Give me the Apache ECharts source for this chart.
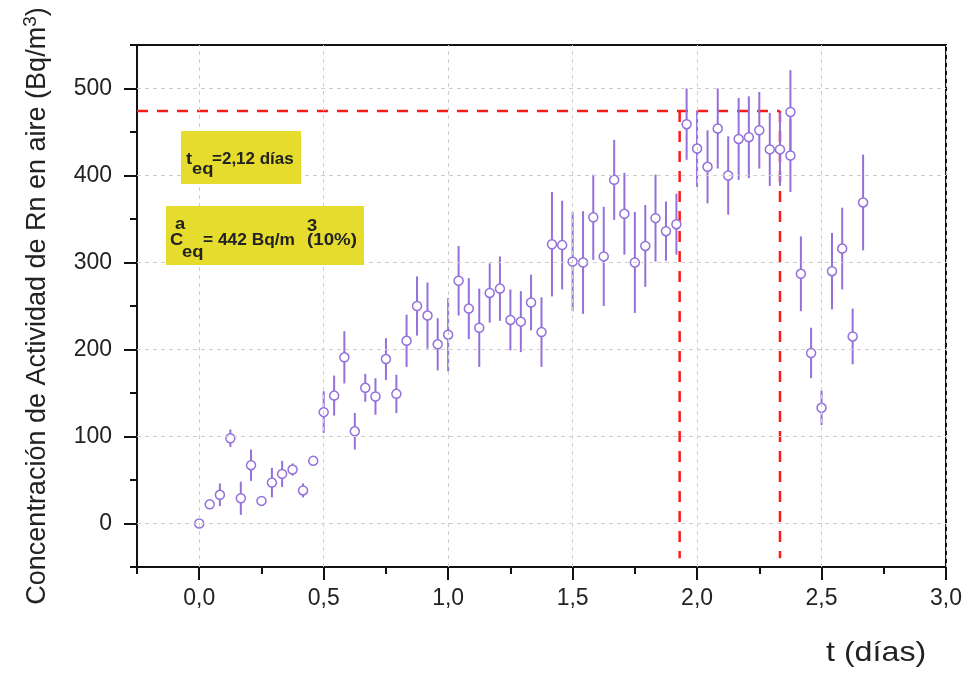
<!DOCTYPE html>
<html>
<head>
<meta charset="utf-8">
<script src="https://cdn.jsdelivr.net/npm/echarts@6/dist/echarts.min.js"></script>
<style>
  html, body { margin: 0; padding: 0; background: #ffffff; }
  #chart { width: 970px; height: 673px; }
</style>
</head>
<body>
<div id="chart"></div>
<script>
// Sampling times (days), one reading per hour; the 2,375 d reading was taken twice
const tDays = [
  0.000, 0.042, 0.083, 0.125, 0.167, 0.208, 0.250, 0.292, 0.333, 0.375, 0.417, 0.458,
  0.500, 0.542, 0.583, 0.625, 0.667, 0.708, 0.750, 0.792, 0.833, 0.875, 0.917, 0.958,
  1.000, 1.042, 1.083, 1.125, 1.167, 1.208, 1.250, 1.292, 1.333, 1.375, 1.417, 1.458,
  1.500, 1.542, 1.583, 1.625, 1.667, 1.708, 1.750, 1.792, 1.833, 1.875, 1.917, 1.958,
  2.000, 2.042, 2.083, 2.125, 2.167, 2.208, 2.250, 2.292, 2.333, 2.375, 2.375, 2.417,
  2.458, 2.500, 2.542, 2.583, 2.625, 2.667
];
// Rn activity concentration in air (Bq/m3)
const conc = [
  0, 22, 33, 98, 29, 67, 26, 47, 57, 62, 38, 72,
  128, 147, 191, 106, 156, 146, 189, 149, 210, 250, 239, 206,
  217, 279, 247, 225, 265, 270, 234, 232, 254, 220, 321, 320,
  301, 300, 352, 307, 395, 356, 300, 319, 351, 336, 344, 459,
  431, 410, 454, 400, 442, 444, 452, 430, 430, 473, 423, 287,
  196, 133, 290, 316, 215, 369
];
// Uncertainty of each reading (Bq/m3)
const concErr = [
  0, 5, 13, 10, 19, 18, 5, 17, 15, 7, 8, 5,
  24, 23, 30, 21, 16, 21, 24, 22, 30, 34, 38, 30,
  42, 40, 35, 45, 34, 37, 35, 35, 32, 40, 60, 51,
  57, 59, 49, 57, 46, 47, 58, 47, 50, 34, 35, 41,
  44, 42, 46, 45, 47, 47, 44, 42, 42, 48, 42, 43,
  29, 20, 44, 47, 32, 55
];

// Axis ticks
const xMajorTicks = [0, 0.5, 1, 1.5, 2, 2.5, 3];
const xMinorTicks = [-0.25, 0.25, 0.75, 1.25, 1.75, 2.25, 2.75];
const yMajorTicks = [0, 100, 200, 300, 400, 500];
const yMinorTicks = [-50, 50, 150, 250, 350, 450, 550];

// Equilibrium reading: plateau level and time window (days)
const eqLevel = 474;
const eqWindow = [1.93, 2.333];
const eqLineBottom = -40;

const FONT = 'Liberation Sans, Arial, sans-serif';
const PURPLE = '#9370db';
const AXIS = '#111111';

const points = tDays.map((t, i) => [t, conc[i]]);
const bars = tDays.map((t, i) => [t, conc[i] - concErr[i], conc[i] + concErr[i]]);

const gridLines = xMajorTicks.map(v => ({ xAxis: v })).concat(yMajorTicks.map(v => ({ yAxis: v })));

const dashedRed = { color: '#ff1a1a', width: 2.5, type: [11, 9] };

// annotation text helper
function label(text, x, y, size, weight, sx) {
  return {
    type: 'text', x: x, y: y, z: 11, scaleX: sx || 1.08,
    style: { text: text, font: (weight || 'bold') + ' ' + size + 'px ' + FONT, fill: '#222', verticalAlign: 'bottom' }
  };
}

const chart = echarts.init(document.getElementById('chart'), null, { renderer: 'canvas' });

chart.setOption({
  animation: false,
  backgroundColor: '#ffffff',
  grid: {
    left: 137, right: 24, top: 45, bottom: 106,
    show: true, borderColor: AXIS, borderWidth: 2, backgroundColor: 'transparent'
  },
  xAxis: [
    {
      type: 'value', min: -0.25, max: 3, position: 'bottom',
      axisLine: { show: true, onZero: false, lineStyle: { color: AXIS, width: 2 } },
      axisTick: { show: true, inside: false, length: 13, customValues: xMajorTicks, lineStyle: { color: AXIS, width: 2 } },
      axisLabel: {
        customValues: xMajorTicks, margin: 20, fontSize: 23, color: '#222', fontFamily: FONT,
        formatter: v => v.toFixed(1).replace('.', ',')
      },
      splitLine: { show: false }
    },
    {
      // placed on the bottom edge to carry the minor ticks
      type: 'value', min: -0.25, max: 3, position: 'top', offset: -522,
      axisLine: { show: false, onZero: false },
      axisTick: { show: true, inside: true, length: 7, customValues: xMinorTicks, lineStyle: { color: AXIS, width: 2 } },
      axisLabel: { show: false },
      splitLine: { show: false }
    }
  ],
  yAxis: [
    {
      type: 'value', min: -50, max: 550, position: 'left',
      axisLine: { show: true, onZero: false, lineStyle: { color: AXIS, width: 2 } },
      axisTick: { show: true, inside: false, length: 13, customValues: yMajorTicks, lineStyle: { color: AXIS, width: 2 } },
      axisLabel: { customValues: yMajorTicks, margin: 25, fontSize: 23, color: '#222', fontFamily: FONT },
      splitLine: { show: false },
      name: '{t|Concentración de Actividad de Rn en aire (Bq/m}{s|3}{t|)}',
      nameLocation: 'middle', nameGap: 82, nameRotate: 90,
      nameTextStyle: {
        rich: {
          t: { fontSize: 27, color: '#222', fontFamily: FONT },
          s: { fontSize: 19, color: '#222', fontFamily: FONT, verticalAlign: 'bottom', padding: [0, 0, 15, 0] }
        }
      }
    },
    {
      // placed on the left edge to carry the minor ticks
      type: 'value', min: -50, max: 550, position: 'right', offset: -809,
      axisLine: { show: false, onZero: false },
      axisTick: { show: true, inside: true, length: 7, customValues: yMinorTicks, lineStyle: { color: AXIS, width: 2 } },
      axisLabel: { show: false },
      splitLine: { show: false }
    }
  ],
  series: [
    {
      // dashed background grid
      type: 'line', data: [], silent: true, z: 1,
      markLine: {
        silent: true, symbol: ['none', 'none'], label: { show: false },
        lineStyle: { color: '#cfcfcf', width: 1, type: [4, 4] },
        emphasis: { disabled: true },
        data: gridLines
      }
    },
    {
      type: 'line', silent: true, z: 2, symbol: 'none',
      data: [[-0.25, eqLevel], [eqWindow[1], eqLevel]],
      lineStyle: dashedRed
    },
    {
      type: 'line', silent: true, z: 2, symbol: 'none',
      data: [[eqWindow[0], eqLevel], [eqWindow[0], eqLineBottom]],
      lineStyle: dashedRed
    },
    {
      type: 'line', silent: true, z: 2, symbol: 'none',
      data: [[eqWindow[1], eqLevel], [eqWindow[1], eqLineBottom]],
      lineStyle: dashedRed
    },
    {
      // error bars
      type: 'custom', silent: true, z: 3,
      data: bars,
      encode: { x: 0, y: [1, 2] },
      renderItem: function (params, api) {
        const t = api.value(0);
        const lo = api.coord([t, api.value(1)]);
        const hi = api.coord([t, api.value(2)]);
        return {
          type: 'line',
          shape: { x1: lo[0], y1: lo[1], x2: hi[0], y2: hi[1] },
          style: { stroke: PURPLE, lineWidth: 2 }
        };
      }
    },
    {
      type: 'scatter', z: 4, silent: true,
      data: points,
      symbol: 'circle', symbolSize: 9,
      itemStyle: { color: '#ffffff', borderColor: PURPLE, borderWidth: 1.5, opacity: 1 }
    }
  ],
  graphic: [
    { type: 'rect', shape: { x: 181, y: 131, width: 120, height: 53 }, style: { fill: '#e5dc2e' }, z: 10 },
    label('t', 186, 168, 17),
    label('eq', 192, 178, 17),
    label('=2,12 días', 212, 168, 17, 'bold', 1.0),

    { type: 'rect', shape: { x: 166, y: 206, width: 198, height: 59 }, style: { fill: '#e5dc2e' }, z: 10 },
    label('a', 175, 233, 17),
    label('C', 170, 248.5, 17),
    label('eq', 182, 261, 17),
    label('= 442 Bq/m', 203, 248.5, 17, 'bold', 1.02),
    label('3', 307, 234.5, 17),
    label('(10%)', 307, 248.5, 17, 'bold', 1.1),

    label('t (días)', 826, 667, 28, 'normal', 1.15)
  ]
});
</script>
</body>
</html>
